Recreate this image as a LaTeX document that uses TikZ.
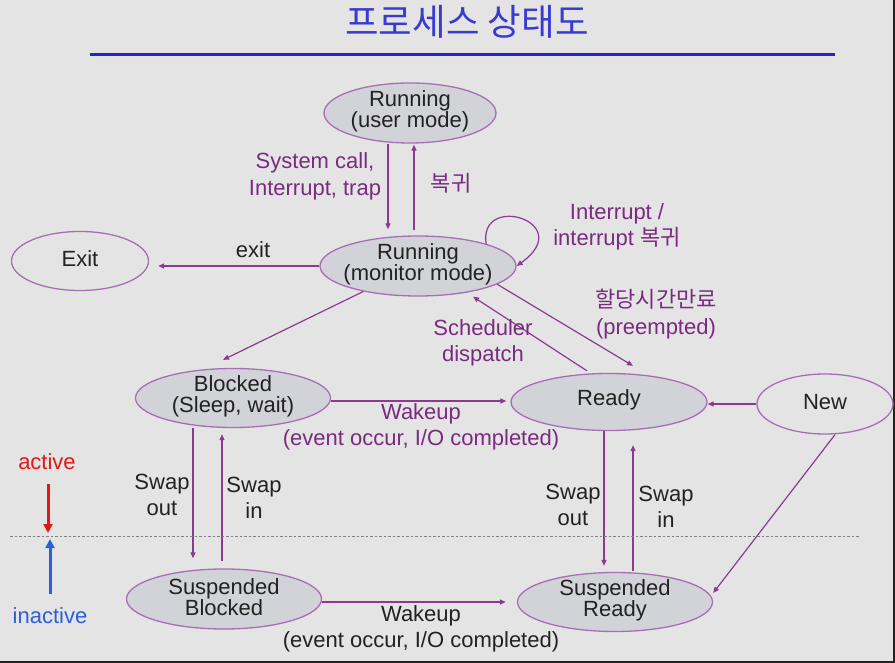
\documentclass[tikz,border=0pt]{standalone}
\usepackage{fontspec}
\setmainfont{Liberation Sans}
\newfontfamily\kr{Noto Sans CJK KR}
\usetikzlibrary{arrows.meta,shapes.geometric}
\definecolor{bg}{HTML}{E4E4E4}
\definecolor{stfill}{HTML}{D2D2D9}
\definecolor{ellb}{HTML}{A66FB2}
\definecolor{lpurp}{HTML}{8C3A90}
\definecolor{tpurp}{HTML}{7A2A80}
\definecolor{dark}{HTML}{222222}
\definecolor{titleblue}{HTML}{3A3AD0}
\definecolor{rulec}{HTML}{2424C8}
\definecolor{actred}{HTML}{E01818}
\definecolor{inblue}{HTML}{2F5FD8}
\begin{document}
\begin{tikzpicture}[x=1pt,y=-1pt,
  st/.style={ellipse, draw=ellb, line width=1.3pt, fill=stfill, inner sep=0pt},
  stw/.style={ellipse, draw=ellb, line width=1.3pt, fill=bg, inner sep=0pt},
  txt/.style={font=\fontsize{22}{21}\selectfont, text=dark, align=center, inner sep=0pt, yshift=2pt},
  lbl/.style={font=\fontsize{22}{26.5}\selectfont, text=tpurp, align=center, inner sep=0pt},
  dlbl/.style={lbl, text=dark},
  arr/.style={draw=lpurp, line width=1.2pt, -{Triangle[length=6pt,width=5pt]}},
  bigarr/.style={line width=3pt, -{Triangle[length=9pt,width=9pt]}}]
\fill[bg] (0,0) rectangle (895,663);
\useasboundingbox (0,0) rectangle (895,663);
% frame edge
\draw[dark, line width=2.5pt] (0,662) -- (894,662) -- (894,0);
% title
\node[font=\kr\fontsize{36.5}{36.5}\selectfont, text=titleblue, inner sep=0pt] (title) at (467,22) {프로세스 상태도};
\coordinate (rl) at (90,55);
\coordinate (rr) at (835,55);
\draw[rulec, line width=3pt] (rl) -- (rr);
% states
\node[st, minimum width=172pt, minimum height=60pt] (run) at (410,113) {};
\node[txt] (runT) at (run) {Running\\(user mode)};
\node[st, minimum width=196pt, minimum height=60pt] (mon) at (418,266) {};
\node[txt] (monT) at (mon) {Running\\(monitor mode)};
\node[stw, minimum width=137pt, minimum height=59pt] (exitn) at (80,261) {};
\node[txt] (exitT) at (exitn) {Exit};
\node[st, minimum width=195pt, minimum height=59pt] (blk) at (233,398) {};
\node[txt] (blkT) at (blk) {Blocked\\(Sleep, wait)};
\node[st, minimum width=196pt, minimum height=57pt] (rdy) at (609,402) {};
\node[txt] (rdyT) at (rdy) {Ready};
\node[stw, minimum width=136pt, minimum height=60pt] (new) at (825,404) {};
\node[txt] (newT) at (new) {New};
\node[st, minimum width=195pt, minimum height=60pt] (sb) at (224,599) {};
\node[txt] (sbT) at (sb) {Suspended\\Blocked};
\node[st, minimum width=195pt, minimum height=59pt] (sr) at (615,602) {};
\node[txt] (srT) at (sr) {Suspended\\Ready};
% arrows
\draw[arr, shorten >=6pt] ([xshift=-22pt]run.south) -- ([xshift=-30pt]mon.north);
\draw[arr, shorten <=5pt, shorten >=1pt] ([xshift=-4pt]mon.north) -- ([xshift=4pt]run.south);
\draw[arr] (mon.18) .. controls (478,192) and (578,222) .. (mon.east);
\draw[arr, shorten >=9pt] (mon.west) -- (exitn.east |- mon.west);
\draw[arr] (mon.205) -- ([xshift=-10pt,yshift=8pt]blk.north);
\draw[arr] ([xshift=-22pt,yshift=2pt]rdy.north) -- ([xshift=55pt]mon.south);
\draw[arr] (mon.-13) -- ([xshift=24pt,yshift=7pt]rdy.north);
\draw[arr, shorten >=4pt] ([yshift=-3pt]blk.east) -- ([yshift=1pt]rdy.west);
\draw[arr] (new.west) -- (new.west -| rdy.east);
\draw[arr, shorten >=10pt] ([xshift=-40pt]blk.south) -- ([xshift=-31pt]sb.north);
\draw[arr] ([xshift=-2pt,yshift=7pt]sb.north) -- ([xshift=-11pt,yshift=-6pt]blk.south);
\draw[arr, shorten >=6pt] ([xshift=-5pt]rdy.south) -- ([xshift=-11pt]sr.north);
\draw[arr] ([xshift=18pt,yshift=1pt]sr.north) -- ([xshift=24pt,yshift=-14pt]rdy.south);
\draw[arr] ([xshift=10pt]new.south) -- ([yshift=9pt]sr.east);
\draw[arr, shorten >=11pt] ([yshift=-3pt]sb.east) -- (sr.west);
% labels
\node[lbl] (l1) at (315,176.5) {System call,\\Interrupt, trap};
\node[lbl, font=\kr\fontsize{22}{26}\selectfont] (l2) at (451,183) {복귀};
\node[lbl] (l3) at (617,227) {Interrupt /\\interrupt {\kr 복귀}};
\node[dlbl] (l4) at (253,250) {exit};
\node[lbl] (l5) at (656,314) {{\kr 할당시간만료}\\(preempted)};
\node[lbl] (l6) at (483,343) {Scheduler\\dispatch};
\node[lbl] (l7) at (421,427) {Wakeup\\(event occur, I/O completed)};
\node[dlbl] (l8) at (421,629) {Wakeup\\(event occur, I/O completed)};
\node[dlbl] (l9) at (162,495) {Swap\\out};
\node[dlbl] (l10) at (254,498) {Swap\\in};
\node[dlbl] (l11) at (573,505) {Swap\\out};
\node[dlbl] (l12) at (666,507) {Swap\\in};
% active / inactive
\coordinate (dl) at (10,536);
\coordinate (dr) at (860,536);
\draw[gray, line width=0.9pt, dash pattern=on 2.5pt off 2pt] (dl) -- (dr);
\node[font=\fontsize{22}{22}\selectfont, text=actred, inner sep=0pt] (act) at (47,462) {active};
\coordinate (actTip) at (48,533);
\draw[actred, bigarr] ([xshift=1pt,yshift=-14pt]act.south) -- (actTip);
\node[font=\fontsize{22}{22}\selectfont, text=inblue, inner sep=0pt] (inact) at (50,616) {inactive};
\coordinate (inTip) at (50,539);
\draw[inblue, bigarr] ([yshift=14pt]inact.north) -- (inTip);
\end{tikzpicture}
\end{document}
